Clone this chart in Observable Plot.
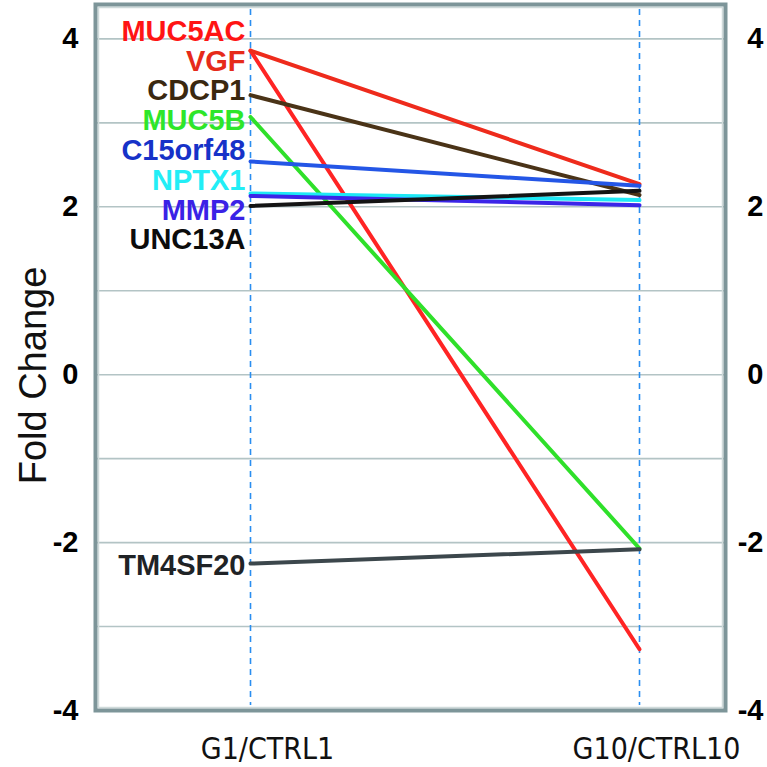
<!DOCTYPE html>
<html><head><meta charset="utf-8">
<script src="https://cdn.jsdelivr.net/npm/d3@7"></script>
<script src="https://cdn.jsdelivr.net/npm/@observablehq/plot@0.6"></script>
<style>body{margin:0;background:#fff}</style>
</head><body><div id="chart"></div>
<script>
const conditions = ["G1/CTRL1", "G10/CTRL10"];
const genes = ["MUC5AC", "VGF", "CDCP1", "MUC5B", "C15orf48", "NPTX1", "MMP2", "UNC13A", "TM4SF20"];
const g1Values = [3.86, 3.86, 3.33, 3.07, 2.54, 2.16, 2.13, 2.01, -2.25];
const g10Values = [-3.27, 2.27, 2.14, -2.07, 2.25, 2.08, 2.02, 2.19, -2.08];
const lineColors = ["#ff2424", "#ee2b1c", "#4a3317", "#2fe02a", "#2456e6", "#1ee8f5", "#3b25e8", "#141414", "#3c474c"];
const labelColors = ["#ff1414", "#e62a1a", "#3a2810", "#2ee62a", "#1632c8", "#22eef6", "#3a22e6", "#0c0c0c", "#1f2326"];
const yTickValues = [-4, -2, 0, 2, 4];
const gridValues = [-3, -2, -1, 0, 1, 2, 3, 4];
const yTitle = "Fold Change";

const rows = [];
genes.forEach((g, i) => {
  rows.push({gene: g, cond: conditions[0], value: g1Values[i], color: lineColors[i]});
  rows.push({gene: g, cond: conditions[1], value: g10Values[i], color: lineColors[i]});
});

// spread gene labels so they don't overlap (cluster relaxation)
function spread(values, gap) {
  const order = d3.range(values.length).sort((a, b) => values[b] - values[a]);
  let clusters = [];
  for (const i of order) {
    clusters.push({items: [i], mean: values[i]});
    while (clusters.length > 1) {
      const c = clusters[clusters.length - 1], p = clusters[clusters.length - 2];
      const cTop = c.mean + (c.items.length - 1) * gap / 2;
      const pBottom = p.mean - (p.items.length - 1) * gap / 2;
      if (pBottom - cTop < gap) {
        const items = p.items.concat(c.items);
        clusters.splice(-2, 2, {items, mean: d3.mean(items, j => values[j])});
      } else break;
    }
  }
  const out = new Array(values.length);
  for (const c of clusters) {
    const top = c.mean + (c.items.length - 1) * gap / 2;
    c.items.forEach((j, k) => out[j] = top - k * gap);
  }
  return out;
}
const labelPos = spread(g1Values, 0.355);
const labels = genes.map((g, i) => ({gene: g, cond: conditions[0], y: labelPos[i], color: labelColors[i]}));

const chart = Plot.plot({
  width: 767,
  height: 767,
  marginLeft: 95,
  marginRight: 42,
  marginTop: 4,
  marginBottom: 57,
  style: {fontFamily: "'Liberation Sans', Arial, sans-serif", background: "#fff", color: "#000"},
  x: {type: "point", domain: conditions, padding: 0, insetLeft: 155, insetRight: 86},
  y: {domain: [-4, 4.41]},
  color: {type: "identity"},
  marks: [
    Plot.ruleY(gridValues, {stroke: "#b3c4c5", strokeWidth: 1.6}),
    Plot.ruleX(conditions, {stroke: "#2a8ef0", strokeWidth: 1.6, strokeDasharray: "6,5", insetTop: 5, insetBottom: 5}),
    Plot.frame({stroke: "#cfdada", strokeWidth: 1.5, inset: 3}),
    Plot.frame({stroke: "#7d9599", strokeWidth: 4}),
    Plot.line(rows, {x: "cond", y: "value", z: "gene", stroke: "color", strokeWidth: 4}),
    Plot.text(labels, {x: "cond", y: "y", text: "gene", fill: "color", textAnchor: "end", dx: -5, dy: 2, fontSize: 29, fontWeight: "bold"}),
    Plot.axisY(yTickValues, {anchor: "left", tickSize: 0, tickPadding: 17, fontSize: 29, fontWeight: "bold", tickFormat: d => String(d), label: null}),
    Plot.axisY(yTickValues, {anchor: "right", tickSize: 0, tickPadding: 38, textAnchor: "end", fontSize: 29, fontWeight: "bold", tickFormat: d => String(d), label: null}),
    Plot.axisX({anchor: "bottom", tickSize: 0, tickPadding: 27, dx: 17, fontSize: 30, fontFamily: "'DejaVu Sans Condensed', 'Liberation Sans', sans-serif", fill: "#111", label: null}),
    Plot.text([yTitle], {frameAnchor: "left", textAnchor: "middle", rotate: -90, dx: -62, dy: 18, fontSize: 38, fill: "#111"})
  ]
});
document.getElementById("chart").appendChild(chart);
</script>
</body></html>
